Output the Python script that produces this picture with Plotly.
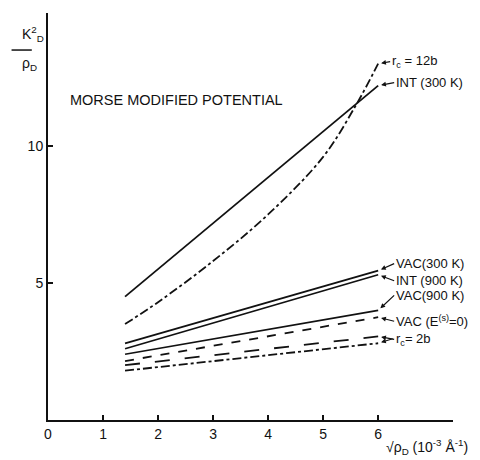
import plotly.graph_objects as go

# x positions (sqrt(rho_D), 10^-3 A^-1)
x_top = [1.4, 2, 3, 4, 5, 5.6, 6]
x_lin = [1.4, 6]

# upper group
int300 = [4.5, 12.2]
rc12b = [3.5, 4.3, 5.8, 7.5, 9.6, 11.5, 13.0]

# lower group
vac300 = [2.8, 5.45]
int900 = [2.6, 5.3]
vac900 = [2.4, 4.0]
vac_e0 = [2.15, 3.75]
rc2b_a = [2.0, 3.05]
rc2b_b = [1.8, 2.8]

x_ticks = [0, 1, 2, 3, 4, 5, 6]
y_ticks = [5, 10]

FONT = "Liberation Sans"
K = "#111"

fig = go.Figure()

def add(x, y, dash="solid", w=1.8, shape="linear"):
    fig.add_trace(go.Scatter(x=x, y=y, mode="lines",
                             line=dict(color=K, width=w, dash=dash, shape=shape),
                             showlegend=False, hoverinfo="skip"))

add(x_lin, int300, w=1.8)
add(x_top, rc12b, dash="dashdot", w=1.8, shape="spline")
add(x_lin, vac300, w=1.8)
add(x_lin, int900, w=1.8)
add(x_lin, vac900, w=1.6)
add(x_lin, vac_e0, dash="dash", w=1.8)
add(x_lin, rc2b_a, dash="longdash", w=1.8)
add(x_lin, rc2b_b, dash="dashdot", w=1.8)

labels = [
    ("r<sub>c</sub> = 12b", rc12b[-1], 12, -2),
    ("INT (300 K)", int300[-1], 16, -3),
    ("VAC(300 K)", vac300[-1], 16, -7),
    ("INT (900 K)", int900[-1], 16, 6),
    ("VAC(900 K)", vac900[-1], 16, -15),
    ("VAC (E<sup>(s)</sup>=0)", vac_e0[-1], 16, 4),
    ("r<sub>c</sub>= 2b", rc2b_a[-1], 16, 3),
]
for txt, yv, ax, ay in labels:
    fig.add_annotation(x=6, y=yv, text=txt, showarrow=True, ax=ax, ay=ay,
                       xanchor="left", arrowhead=2, arrowsize=0.8,
                       arrowwidth=1.2, arrowcolor=K, standoff=3,
                       font=dict(family=FONT, size=13, color=K))
fig.add_annotation(x=6, y=rc2b_b[-1], text="", showarrow=True, ax=16, ay=-5,
                   arrowhead=2, arrowsize=0.8, arrowwidth=1.2, arrowcolor=K,
                   standoff=3)

fig.add_annotation(xref="paper", yref="paper", x=0.049, y=0.811,
                   text="MORSE MODIFIED POTENTIAL", showarrow=False,
                   xanchor="left", font=dict(family=FONT, size=14.5, color=K))

# y-axis title as a fraction
fig.add_annotation(xref="paper", yref="paper", x=-0.068, y=0.918,
                   text="K<sup>2</sup><sub>D</sub>", showarrow=False,
                   yanchor="bottom",
                   font=dict(family=FONT, size=14, color=K))
fig.add_annotation(xref="paper", yref="paper", x=-0.068, y=0.902,
                   text="ρ<sub>D</sub>", showarrow=False, yanchor="top",
                   font=dict(family=FONT, size=14, color=K))
fig.add_shape(type="line", xref="paper", yref="paper", x0=-0.09, x1=-0.04,
              y0=0.909, y1=0.909, line=dict(color=K, width=1.5))

# x-axis title
fig.add_annotation(xref="paper", yref="paper", x=1.042, y=-0.066,
                   text="√ρ<sub>D</sub> (10<sup>-3</sup> Å<sup>-1</sup>)",
                   showarrow=False, xanchor="right", yanchor="middle",
                   font=dict(family=FONT, size=14, color=K))

# the page body adds 8px; size the figure so the plot area lands right
fig.update_layout(
    width=472, height=452,
    margin=dict(l=40, r=27, t=5, b=40),
    paper_bgcolor="white", plot_bgcolor="white",
    font=dict(family=FONT, size=14, color=K),
    xaxis=dict(range=[0, 7.36], tickvals=x_ticks, showgrid=False,
               zeroline=False, showline=True, linecolor=K, linewidth=2,
               ticks="inside", ticklen=5, tickcolor=K, tickwidth=1.5),
    yaxis=dict(range=[0, 14.85], tickvals=y_ticks, showgrid=False,
               zeroline=False, showline=True, linecolor=K, linewidth=2,
               ticks="inside", ticklen=5, tickcolor=K, tickwidth=1.5),
)

fig.write_html("out.html")
